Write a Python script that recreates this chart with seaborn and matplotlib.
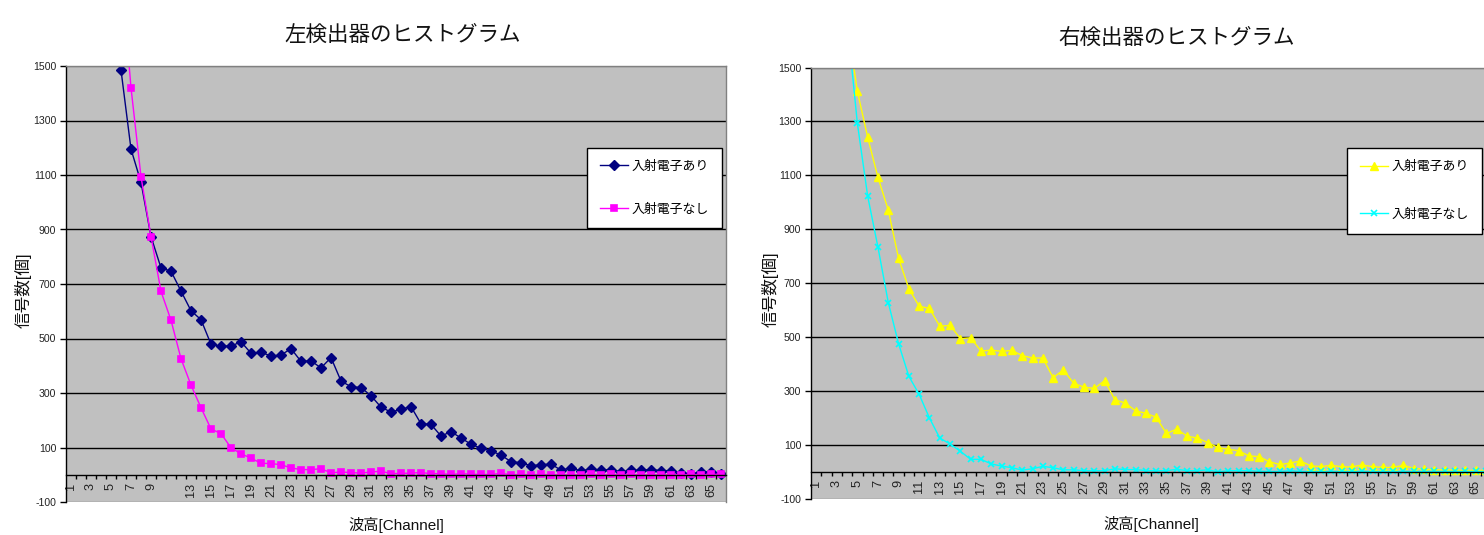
import matplotlib
matplotlib.use("Agg")
import matplotlib.pyplot as plt
import seaborn as sns

plt.rcParams['font.family'] = ['Liberation Sans', 'Noto Sans CJK JP']

# ---------------- data ----------------
channels = list(range(1, 67))
series_names = ["入射電子あり", "入射電子なし"]

left_with = [4500, 3900, 3200, 2500, 1780, 1485, 1195, 1073, 874, 759,
             747, 674, 602, 569, 479, 472, 472, 488, 446, 449,
             436, 439, 463, 416, 418, 392, 430, 344, 323, 320,
             290, 248, 230, 240, 250, 187, 185, 142, 158, 135,
             112, 97, 88, 72, 48, 44, 33, 37, 39, 17,
             25, 14, 22, 16, 19, 11, 16, 16, 19, 15,
             15, 7, 3, 10, 10, 4]
left_without = [9000, 7500, 6000, 4500, 3000, 1860, 1420, 1094, 874, 673,
                567, 426, 329, 246, 168, 151, 99, 77, 61, 42,
                41, 37, 25, 19, 19, 22, 7, 10, 8, 6,
                10, 13, 4, 5, 6, 8, 4, 4, 1, 4,
                2, 1, 1, 5, 0, 1, 0, 1, 0, 0,
                0, 0, 2, 0, 1, 0, 1, 0, 0, 0,
                0, 0, 1, 0, 1, 2]
right_with = [4000, 3200, 2500, 1670, 1412, 1241, 1092, 971, 792, 679,
              614, 606, 540, 543, 494, 497, 448, 451, 447, 450,
              431, 422, 422, 349, 378, 328, 314, 309, 338, 267,
              255, 226, 217, 202, 142, 158, 132, 125, 108, 90,
              83, 78, 59, 56, 37, 27, 32, 40, 22, 19,
              24, 18, 18, 25, 19, 16, 16, 24, 12, 10,
              7, 7, 6, 5, 5, 5]
right_without = [5000, 3800, 2600, 1676, 1293, 1023, 833, 628, 475, 354,
                 287, 199, 125, 103, 76, 46, 46, 29, 21, 15,
                 6, 11, 20, 15, 7, 7, 4, 4, 4, 11,
                 8, 8, 4, 4, 4, 9, 4, 4, 7, 0,
                 4, 4, 4, 2, 1, 1, 4, 1, 1, 1,
                 1, 1, 1, 1, 1, 1, 1, 1, 1, 1,
                 1, 1, 1, 1, 1, 1]

left_xtick_labels = [1, 3, 5, 7, 9] + list(range(13, 66, 2))
right_xtick_labels = list(range(1, 66, 2))
yticks = list(range(-100, 1501, 200))

left_title = "左検出器のヒストグラム"
right_title = "右検出器のヒストグラム"
ylabel = "信号数[個]"
xlabel = "波高[Channel]"

# ---------------- figure ----------------
W, H = 1484, 535
fig = plt.figure(figsize=(W / 100, H / 100), dpi=100)
axL = fig.add_axes([66 / W, 33 / H, 660 / W, 436 / H])
axR = fig.add_axes([811 / W, 36.3 / H, 680 / W, 431.2 / H])


def draw(ax, y1, y2, c1, c2, m1, m2, ms1, ms2):
    sns.lineplot(x=channels, y=y1, ax=ax, color=c1, marker=m1, markersize=ms1,
                 markeredgecolor=c1, markerfacecolor=c1, markeredgewidth=1,
                 linewidth=1, label=series_names[0])
    sns.lineplot(x=channels, y=y2, ax=ax, color=c2, marker=m2, markersize=ms2,
                 markeredgecolor=c2, markerfacecolor=c2, markeredgewidth=1.2,
                 linewidth=1, label=series_names[1])


def style(ax, xlabels, title, title_x, title_y, leg_anchor, ylab_x, xlab_y,
          lab_spacing):
    ax.set_facecolor('#C0C0C0')
    ax.set_xlim(0.5, 66.5)
    ax.set_ylim(-100, 1500)
    ax.set_yticks(yticks)
    ax.set_yticklabels([str(v) for v in yticks])
    ax.grid(axis='y', color='black', linewidth=1)
    ax.grid(axis='x', visible=False)
    ax.set_axisbelow(True)
    gl = ax.get_ygridlines()
    gl[0].set_color('#808080')
    gl[-1].set_color('#808080')

    for s in ['top', 'right']:
        ax.spines[s].set_color('#808080')
        ax.spines[s].set_linewidth(1)
    ax.spines['left'].set_color('black')
    ax.spines['left'].set_linewidth(1)
    ax.spines['bottom'].set_position(('data', 0))
    ax.spines['bottom'].set_color('black')
    ax.spines['bottom'].set_linewidth(1)

    ax.set_xticks([c + 0.5 for c in channels[:-1]])
    ax.set_xticklabels([])
    ax.set_xticks(xlabels, minor=True)
    ax.set_xticklabels([str(v) for v in xlabels], minor=True, rotation=90)
    ax.tick_params(axis='x', which='major', direction='out', length=3,
                   width=1, color='black')
    ax.tick_params(axis='x', which='minor', length=0, pad=6, labelsize=9.2,
                   colors='#222222')
    ax.tick_params(axis='y', direction='out', length=4, width=1,
                   color='black', labelsize=7.6, pad=3, labelcolor='#222222')

    ax.set_title(title, fontsize=15.5, x=title_x, y=title_y, pad=0,
                 color='#111111')
    ax.set_ylabel(ylabel, fontsize=12, color='#111111')
    ax.yaxis.set_label_coords(ylab_x, 0.485)
    ax.set_xlabel(xlabel, fontsize=11, color='#111111')
    ax.xaxis.set_label_coords(0.5, xlab_y)

    handles, labels = ax.get_legend_handles_labels()
    ax.legend(handles, labels, loc='upper right', bbox_to_anchor=leg_anchor,
              frameon=True, fancybox=False, edgecolor='black', framealpha=1,
              facecolor='white', fontsize=9.3, labelspacing=lab_spacing,
              handlelength=2.2, handletextpad=0.3, borderpad=1.0,
              borderaxespad=0)


draw(axL, left_with, left_without, '#000080', '#FF00FF', 'D', 's', 5.5, 5)
draw(axR, right_with, right_without, '#FFFF00', '#00FFFF', '^', 'x', 6, 5)

style(axL, left_xtick_labels, left_title, 0.51, 1.057, (0.994, 0.812),
      -0.052, -0.035, 2.35)
style(axR, right_xtick_labels, right_title, 0.537, 1.054, (0.987, 0.813),
      -0.048, -0.04, 2.75)

fig.savefig("out.png", dpi=100, facecolor='white')
